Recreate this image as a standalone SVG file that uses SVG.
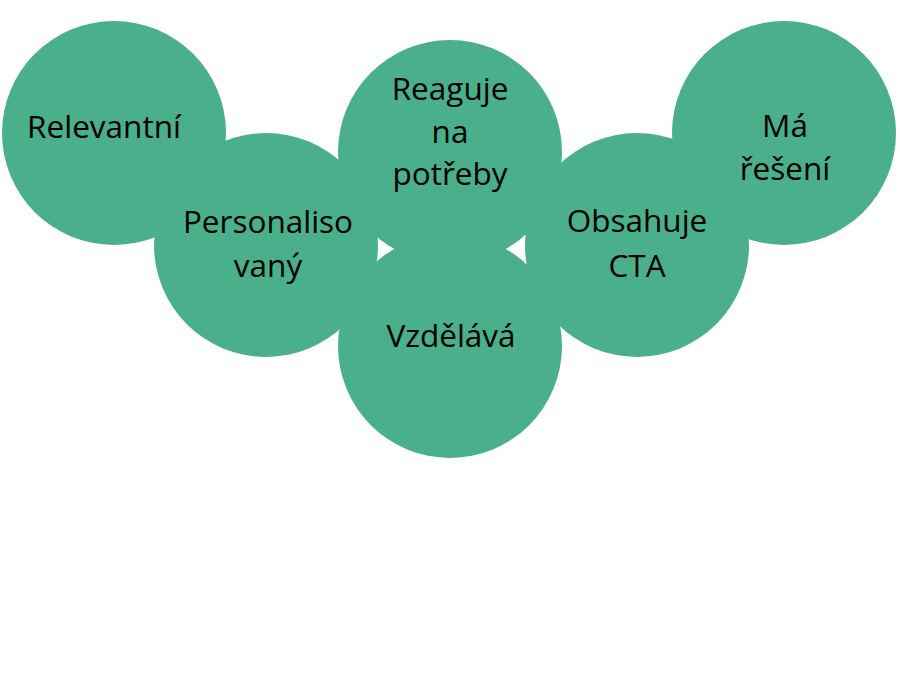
<svg xmlns="http://www.w3.org/2000/svg" width="900" height="700" viewBox="0 0 900 700">
<style>
.c{fill:#4aaf8b;}
.t{font-family:"Open Sans","Liberation Sans",sans-serif;font-size:31.5px;fill:#000;text-anchor:middle;}
</style>
<rect width="900" height="700" fill="#fff"/>
<g id="relevantni"><circle class="c" cx="114" cy="133" r="112"/><text class="t" x="104" y="138">Relevantní</text></g>
<g id="ma-reseni"><circle class="c" cx="784" cy="133" r="112"/><text class="t" x="785" y="137">Má</text><text class="t" x="785" y="180">řešení</text></g>
<g id="personalisovany"><circle class="c" cx="266" cy="245" r="112"/><text class="t" x="268" y="233">Personaliso</text><text class="t" x="268" y="277">vaný</text></g>
<g id="obsahuje-cta"><circle class="c" cx="637" cy="245" r="112"/><text class="t" x="637" y="232">Obsahuje</text><text class="t" x="637" y="277">CTA</text></g>
<g id="reaguje"><circle class="c" cx="450" cy="152" r="112"/><text class="t" x="450" y="100">Reaguje</text><text class="t" x="450" y="143">na</text><text class="t" x="450" y="185">potřeby</text></g>
<g id="vzdelava"><circle class="c" cx="450" cy="346" r="112"/><text class="t" x="451" y="347">Vzdělává</text></g>
<g id="connectors"></g>
</svg>
